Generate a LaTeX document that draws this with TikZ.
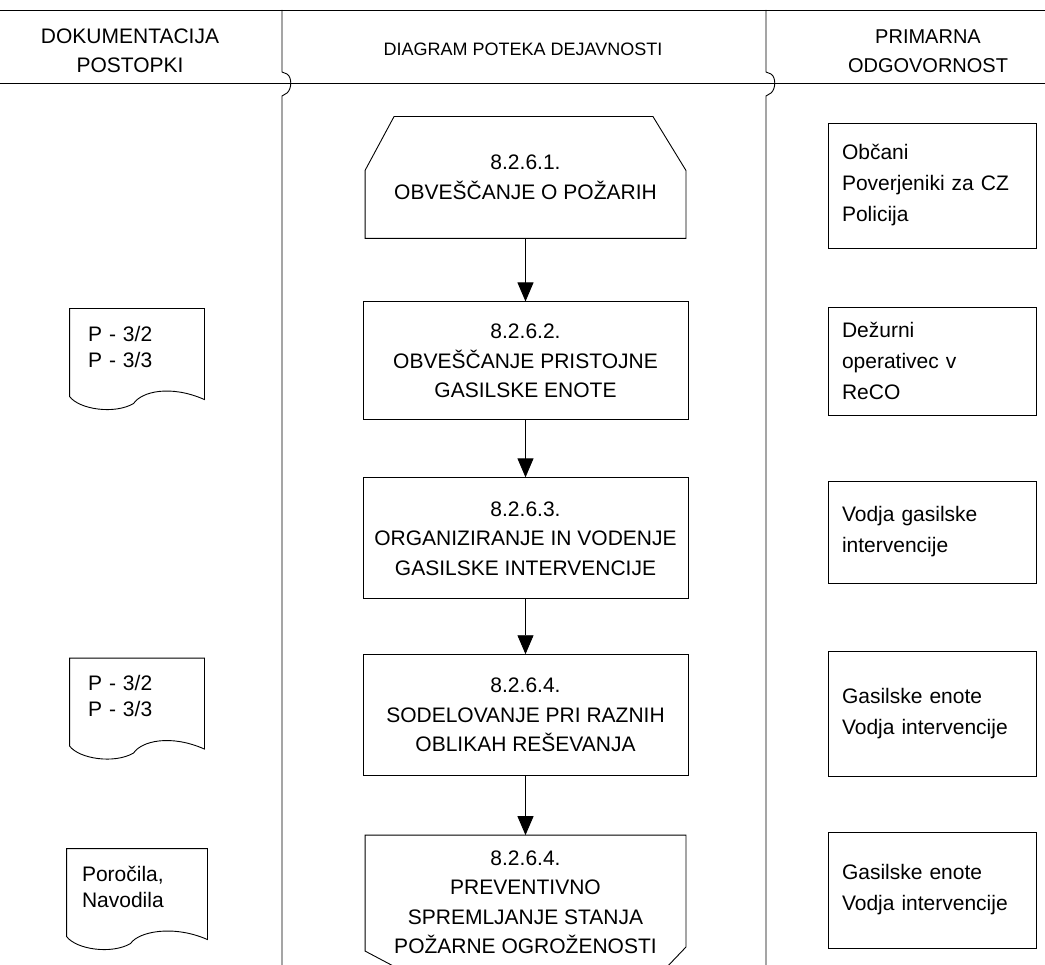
\documentclass[tikz,border=0pt]{standalone}
\usepackage{fontspec}
\setmainfont{Liberation Sans}
\usetikzlibrary{arrows.meta, positioning, calc}

\begin{document}
\begin{tikzpicture}[x=1pt, y=-1pt, line width=0.9pt,
    font=\fontsize{21}{29.5}\selectfont,
    node distance=57pt, stepbox/.style={
        rectangle,
        draw=black,
        minimum width=325pt,
        minimum height=121pt,
        align=center,
        inner sep=0pt
    }, stepshape/.style={
        stepbox,
        draw=none,
        minimum width=320pt
    }, rolebox/.style={
        rectangle,
        draw=black,
        text width=180pt,
        inner xsep=14pt,
        minimum height=125pt,
        align=left,
        font=\fontsize{21}{31}\selectfont
    }, docbox/.style={
        rectangle,
        text width=98pt,
        inner xsep=18pt,
        minimum height=75pt,
        align=left,
        font=\fontsize{21}{26}\selectfont
    }, flow/.style={
        -{Triangle[width=16pt, length=19pt]}
    }]
    \useasboundingbox (0,0) rectangle (1045,965);

    % swimlane frame
    \draw (0,10) -- (1045,10);
    \draw (0,83) -- (1045,83);
    \foreach \x in {282,766}
        \draw (\x,10) -- (\x,72) -- (\x+5,74) .. controls (\x+10,77) and (\x+10,89) .. (\x+5,93) -- (\x,96) -- (\x,965);

    \node (hdoc) at (130,51) [align=center] {DOKUMENTACIJA\\POSTOPKI};
    \node (hflow) at (523,49) [font=\fontsize{18}{21}\selectfont] {DIAGRAM POTEKA DEJAVNOSTI};
    \node (hrole) at (928,51) [align=center, font=\fontsize{20}{29}\selectfont] {PRIMARNA\\ODGOVORNOST};

    % activity chain
    \node (s1) [stepshape] at (525.5,177.5) {8.2.6.1.\\OBVEŠČANJE O POŽARIH};
    \node (s2) [stepbox, below=63pt of s1, minimum height=118pt] {8.2.6.2.\\OBVEŠČANJE PRISTOJNE\\GASILSKE ENOTE};
    \node (s3) [stepbox, below=of s2] {8.2.6.3.\\ORGANIZIRANJE IN VODENJE\\GASILSKE INTERVENCIJE};
    \node (s4) [stepbox, below=55pt of s3] {8.2.6.4.\\SODELOVANJE PRI RAZNIH\\OBLIKAH REŠEVANJA};
    \node (s5) [stepshape, below=59pt of s4, minimum height=133pt] {8.2.6.4.\\PREVENTIVNO\\SPREMLJANJE STANJA\\POŽARNE OGROŽENOSTI};

    \draw ($(s1.south west)+(0,-68)$) -- ($(s1.north west)+(29,0)$) -- ($(s1.north east)+(-33,0)$)
        -- ($(s1.south east)+(0,-68)$) -- (s1.south east) -- (s1.south west) -- cycle;
    \draw ($(s5.south west)+(34,0)$) -- ($(s5.south west)+(0,-18)$) -- (s5.north west)
        -- (s5.north east) -- ($(s5.south east)+(0,-22)$) -- ($(s5.south east)+(-21,0)$);

    \foreach \a/\b in {s1/s2, s2/s3, s3/s4, s4/s5}
        \draw [flow] (\a) -- (\b);

    % responsibilities
    \node (r1) [rolebox] at (932,185.5) {Občani\\Poverjeniki za CZ\\Policija};
    \node (r2) [rolebox, minimum height=108pt] at (932,361) {Dežurni\\operativec v\\ReCO};
    \node (r3) [rolebox, minimum height=102pt] at (932,532) {Vodja gasilske\\intervencije};
    \node (r4) [rolebox] at (932,714) {Gasilske enote\\Vodja intervencije};
    \node (r5) [rolebox, minimum height=116pt] at (932,890) {Gasilske enote\\Vodja intervencije};

    % documents
    \node (d1) [docbox] at (137,346.5) {P - 3/2\\P - 3/3};
    \node (d2) [docbox] at (137,696) {P - 3/2\\P - 3/3};
    \node (d3) [docbox, text width=110pt, inner xsep=15pt] at (137,886.5) {Poročila,\\Navodila};
    \foreach \d in {d1,d2,d3}
        \draw (\d.north west) -- (\d.north east) -- ++(0,91)
            .. controls +(-34,-15) and +(8,-12) .. ($(\d.north west)+(64,95)$)
            .. controls +(-19,11) and +(10,13) .. ($(\d.north west)+(0,88)$) -- cycle;
\end{tikzpicture}
\end{document}
